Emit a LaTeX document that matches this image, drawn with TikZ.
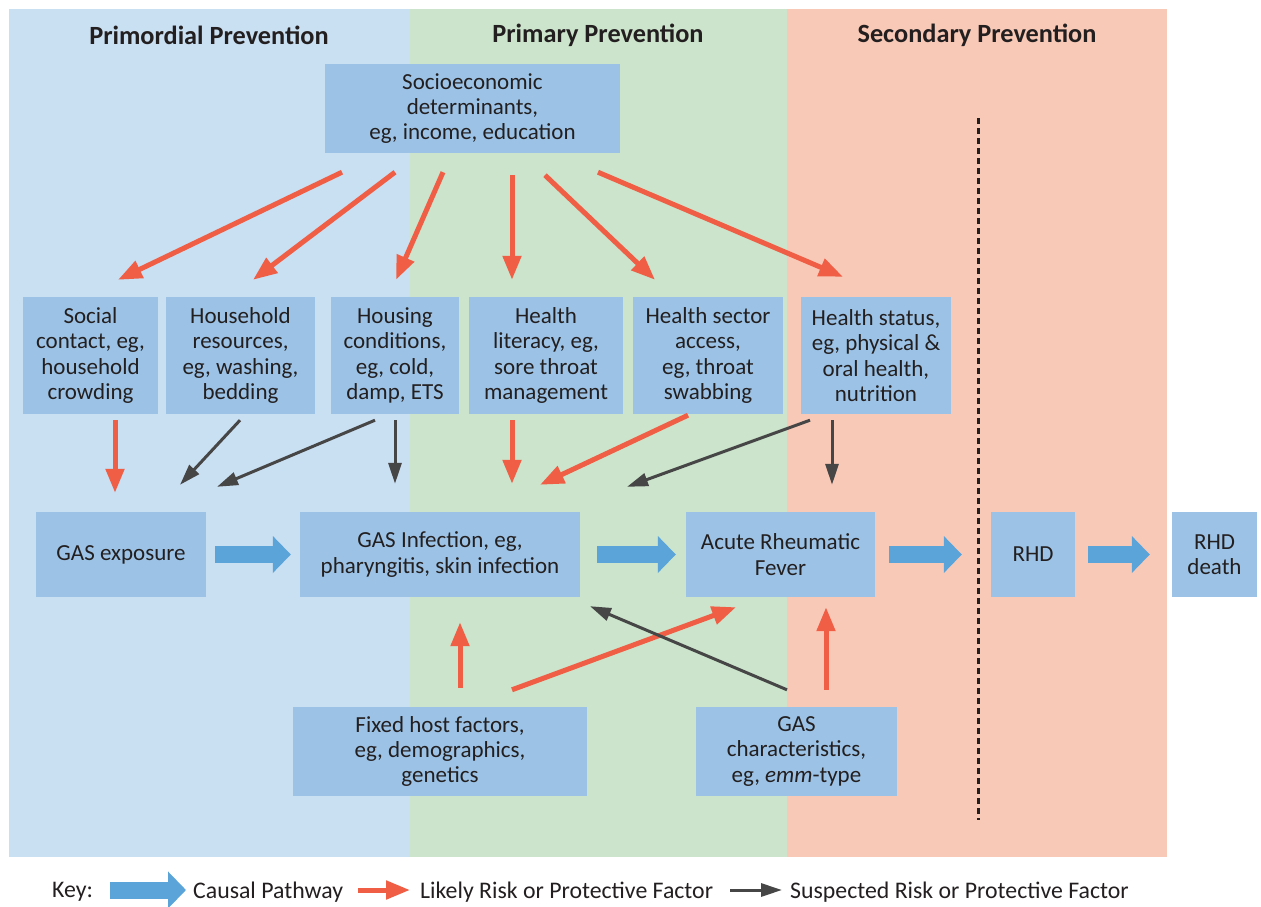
\documentclass[tikz,border=0pt]{standalone}
\usepackage{fontspec}
\setmainfont{Carlito}
\usetikzlibrary{arrows.meta}
\definecolor{bandblue}{HTML}{C9DFF2}
\definecolor{bandgreen}{HTML}{CCE4CB}
\definecolor{bandsalmon}{HTML}{F9C9B7}
\definecolor{boxblue}{HTML}{9CC3E6}
\definecolor{causalblue}{HTML}{5AA4DA}
\definecolor{likelyred}{HTML}{EF5E45}
\definecolor{suspectgray}{HTML}{464646}
\definecolor{textdark}{HTML}{231F20}
\begin{document}
\begin{tikzpicture}[x=1pt,y=-1pt]
				\tikzstyle{Box} = [fill=boxblue, inner sep=0pt, align=center, text=textdark, font=\fontsize{23}{25.3}\selectfont]
				\tikzstyle{Title} = [text=textdark, font=\fontsize{26.3}{29}\selectfont\bfseries]
				\tikzstyle{KeyText} = [anchor=west, inner sep=0pt, text=textdark, font=\fontsize{23.8}{26}\selectfont]
				\tikzstyle{Causal} = [draw=causalblue, line width=17pt, -{Triangle[length=18pt,width=36pt]}]
				\tikzstyle{Likely} = [draw=likelyred, line width=5pt, -{Triangle[length=24pt,width=18pt]}]
				\tikzstyle{Suspected} = [draw=suspectgray, line width=3pt, -{Triangle[length=21pt,width=13pt]}]
				\useasboundingbox (0,0) rectangle (1261,907);
				\fill[bandblue] (9,9) rectangle (410,857);
				\fill[bandgreen] (410,9) rectangle (787,857);
				\fill[bandsalmon] (787,9) rectangle (1167,857);
				\node (T1) at (209,35) [Title] {Primordial Prevention};
				\node (T2) at (598,35) [Title] {Primary Prevention};
				\node (T3) at (977,35) [Title] {Secondary Prevention};
				\node (Socio) at (472.5,108.5) [Box, minimum width=295pt, minimum height=89pt] {Socioeconomic\\determinants,\\eg, income, education};
				\node (Social) at (90.5,355.5) [Box, minimum width=135pt, minimum height=117pt] {Social\\contact, eg,\\household\\crowding};
				\node (Household) at (240.5,355.5) [Box, minimum width=149pt, minimum height=117pt] {Household\\resources,\\eg, washing,\\bedding};
				\node (Housing) at (395,355.5) [Box, minimum width=128pt, minimum height=117pt] {Housing\\conditions,\\eg, cold,\\damp, ETS};
				\node (Literacy) at (546,355.5) [Box, minimum width=154pt, minimum height=117pt] {Health\\literacy, eg,\\sore throat\\management};
				\node (Sector) at (708,355.5) [Box, minimum width=150pt, minimum height=117pt] {Health sector\\access,\\eg, throat\\swabbing};
				\node (Status) at (876,355.5) [Box, minimum width=150pt, minimum height=117pt] {Health status,\\eg, physical \&\\oral health,\\nutrition};
				\node (Exposure) at (121,554.5) [Box, minimum width=170pt, minimum height=85pt] {GAS exposure};
				\node (Infection) at (440,554.5) [Box, minimum width=280pt, minimum height=85pt] {GAS Infection, eg,\\pharyngitis, skin infection};
				\node (ARF) at (780.5,554.5) [Box, minimum width=189pt, minimum height=85pt] {Acute Rheumatic\\Fever};
				\node (RHD) at (1033,554.5) [Box, minimum width=84pt, minimum height=85pt] {RHD};
				\node (Death) at (1214.5,554.5) [Box, minimum width=85pt, minimum height=85pt] {RHD\\death};
				\node (Fixed) at (440,751.5) [Box, minimum width=294pt, minimum height=89pt] {Fixed host factors,\\eg, demographics,\\genetics};
				\node (Strain) at (796.5,751.5) [Box, minimum width=201pt, minimum height=89pt] {GAS\\characteristics,\\eg, \textit{emm}-type};
				\coordinate (DashTop) at (978,118);
				\coordinate (DashBottom) at (978,820);
				\draw[textdark, line width=3pt, dash pattern=on 6pt off 4pt] (DashTop) to (DashBottom);
				\draw[Likely] ([xshift=-130.5pt,yshift=-19pt]Socio.south) to ([xshift=27.5pt,yshift=17pt]Social.north);
				\draw[Likely] ([xshift=-77.5pt,yshift=-19pt]Socio.south) to ([xshift=12.5pt,yshift=17pt]Household.north);
				\draw[Likely] ([xshift=-29.5pt,yshift=-19pt]Socio.south) to ([xshift=1pt,yshift=17pt]Housing.north);
				\draw[Likely] ([xshift=39.5pt,yshift=-22pt]Socio.south) to ([xshift=-34pt,yshift=17pt]Literacy.north);
				\draw[Likely] ([xshift=72.5pt,yshift=-22pt]Socio.south) to ([xshift=-53pt,yshift=17pt]Sector.north);
				\draw[Likely] ([xshift=125.5pt,yshift=-19pt]Socio.south) to ([xshift=-33pt,yshift=20pt]Status.north);
				\draw[Likely] ([xshift=24.5pt,yshift=-6pt]Social.south) to ([xshift=-6pt,yshift=19pt]Exposure.north);
				\draw[Suspected] ([xshift=-0.5pt,yshift=-6pt]Household.south) to ([xshift=59pt,yshift=27pt]Exposure.north);
				\draw[Suspected] ([xshift=-20pt,yshift=-6pt]Housing.south) to ([xshift=96pt,yshift=25pt]Exposure.north);
				\draw[Suspected] ([xshift=0pt,yshift=-6pt]Housing.south) to ([xshift=-45pt,yshift=28pt]Infection.north);
				\draw[Likely] ([xshift=-34pt,yshift=-6pt]Literacy.south) to ([xshift=72pt,yshift=28pt]Infection.north);
				\draw[Likely] ([xshift=-20pt,yshift=-1pt]Sector.south) to ([xshift=100pt,yshift=27pt]Infection.north);
				\draw[Suspected] ([xshift=-66pt,yshift=-6pt]Status.south) to ([xshift=187pt,yshift=25pt]Infection.north);
				\draw[Suspected] ([xshift=-44pt,yshift=-6pt]Status.south) to ([xshift=51.5pt,yshift=27pt]ARF.north);
				\draw[Causal] ([xshift=9pt]Exposure.east) to ([xshift=-9pt]Infection.west);
				\draw[Causal] ([xshift=17pt]Infection.east) to ([xshift=-10pt]ARF.west);
				\draw[Causal] ([xshift=14pt]ARF.east) to ([xshift=-29pt]RHD.west);
				\draw[Causal] ([xshift=13pt]RHD.east) to ([xshift=-22pt]Death.west);
				\draw[Likely] ([xshift=20pt,yshift=19pt]Fixed.north) to ([xshift=20pt,yshift=-25pt]Infection.south);
				\draw[Likely] ([xshift=72pt,yshift=17pt]Fixed.north) to ([xshift=-44.5pt,yshift=-10pt]ARF.south);
				\draw[Suspected] ([xshift=-9.5pt,yshift=17pt]Strain.north) to ([xshift=150pt,yshift=-9pt]Infection.south);
				\draw[Likely] ([xshift=29.5pt,yshift=17pt]Strain.north) to ([xshift=45.5pt,yshift=-10pt]ARF.south);
				\node (KeyLabel) at (52,892) [KeyText] {Key:};
				\coordinate (KeyCausalA) at (110,890);
				\coordinate (KeyCausalB) at (186,890);
				\draw[Causal] (KeyCausalA) to (KeyCausalB);
				\node (KeyCausal) at (193,892) [KeyText] {Causal Pathway};
				\coordinate (KeyLikelyA) at (358,890);
				\coordinate (KeyLikelyB) at (410,890);
				\draw[Likely] (KeyLikelyA) to (KeyLikelyB);
				\node (KeyLikely) at (420,892) [KeyText] {Likely Risk or Protective Factor};
				\coordinate (KeySuspectA) at (730,890);
				\coordinate (KeySuspectB) at (782,890);
				\draw[Suspected] (KeySuspectA) to (KeySuspectB);
				\node (KeySuspect) at (790,892) [KeyText] {Suspected Risk or Protective Factor};
			\end{tikzpicture}
\end{document}
